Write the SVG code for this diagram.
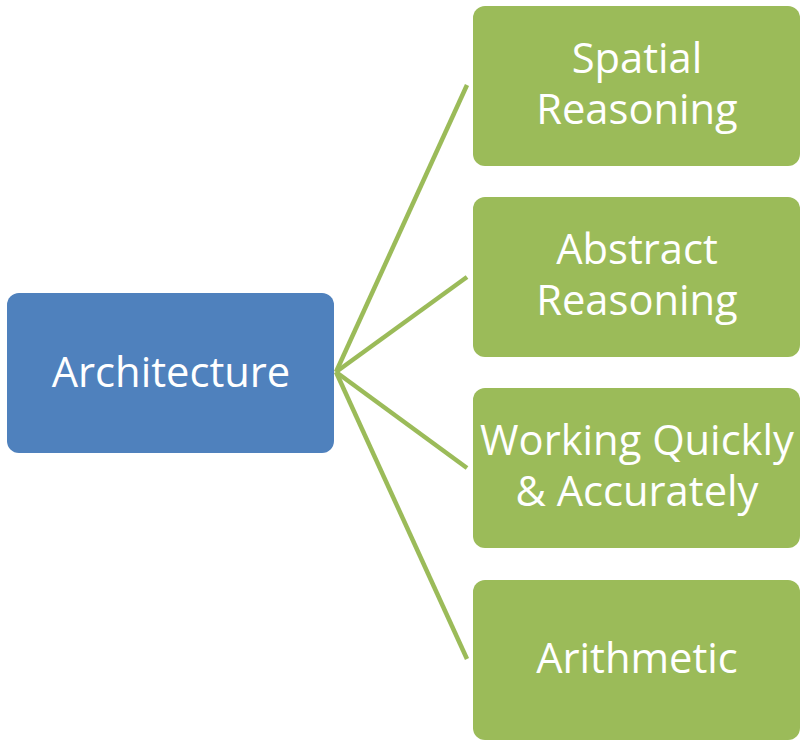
<svg xmlns="http://www.w3.org/2000/svg" width="800" height="741" viewBox="0 0 800 741">
<style>
.blue{fill:#4F81BD;}
.green{fill:#9BBB59;}
.lbl{fill:#FFFFFF;font-family:"Open Sans","Noto Sans",sans-serif;font-size:41.7px;text-anchor:middle;}
.conn{stroke:#9BBB59;stroke-width:4.5;fill:none;}
</style>
<rect width="800" height="741" fill="#FFFFFF"/>
<g id="connectors">
<line class="conn" x1="336" y1="372" x2="467" y2="85"/>
<line class="conn" x1="336" y1="372" x2="467" y2="277"/>
<line class="conn" x1="336" y1="372" x2="467" y2="468"/>
<line class="conn" x1="336" y1="372" x2="467" y2="659"/>
</g>
<g id="architecture">
<rect class="blue" x="7" y="293" width="327" height="160" rx="12"/>
<text class="lbl" x="171" y="387">Architecture</text>
</g>
<g id="spatial">
<rect class="green" x="473" y="6" width="327" height="160" rx="12"/>
<text class="lbl" x="637" y="73">Spatial<tspan x="637" dy="51">Reasoning</tspan></text>
</g>
<g id="abstract">
<rect class="green" x="473" y="197" width="327" height="160" rx="12"/>
<text class="lbl" x="637" y="264">Abstract<tspan x="637" dy="51">Reasoning</tspan></text>
</g>
<g id="working">
<rect class="green" x="473" y="388" width="327" height="160" rx="12"/>
<text class="lbl" x="637" y="455">Working Quickly<tspan x="637" dy="51">&amp; Accurately</tspan></text>
</g>
<g id="arithmetic">
<rect class="green" x="473" y="580" width="327" height="160" rx="12"/>
<text class="lbl" x="637" y="673">Arithmetic</text>
</g>
</svg>
